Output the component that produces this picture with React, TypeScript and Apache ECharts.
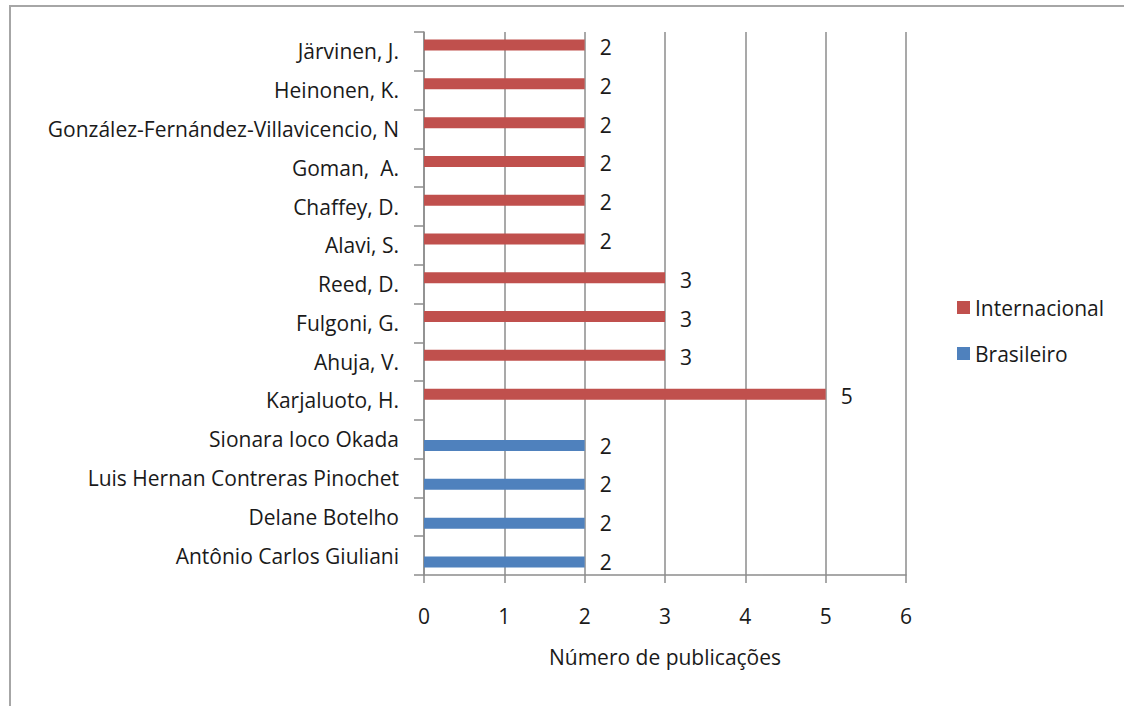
import React, { useEffect, useRef } from "react";
import * as echarts from "echarts";

const categories = [
  "Antônio Carlos Giuliani",
  "Delane Botelho",
  "Luis Hernan Contreras Pinochet",
  "Sionara Ioco Okada",
  "Karjaluoto, H.",
  "Ahuja, V.",
  "Fulgoni, G.",
  "Reed, D.",
  "Alavi, S.",
  "Chaffey, D.",
  "Goman,  A.",
  "González-Fernández-Villavicencio, N",
  "Heinonen, K.",
  "Järvinen, J.",
];

const internacional = [null, null, null, null, 5, 3, 3, 3, 2, 2, 2, 2, 2, 2];
const brasileiro = [2, 2, 2, 2, null, null, null, null, null, null, null, null, null, null];

const xTicks = [0, 1, 2, 3, 4, 5, 6];

const FONT = "Open Sans";
const FS = 21;
const TEXT = "#1a1a1a";
const GRID = "#8c8c8c";

export default function App() {
  const ref = useRef<HTMLDivElement>(null);
  useEffect(() => {
    if (!ref.current) return;
    const chart = echarts.init(ref.current, null, { renderer: "svg" });
    chart.setOption({
      animation: false,
      backgroundColor: "#ffffff",
      textStyle: { fontFamily: FONT, color: TEXT },
      graphic: [
        {
          type: "polyline",
          shape: { points: [[10, 706], [10, 6], [1124, 6]] },
          style: { stroke: "#a6a6a6", lineWidth: 2, fill: "none" },
          silent: true,
        },
      ],
      legend: {
        orient: "vertical",
        left: 952,
        top: 292,
        itemWidth: 13,
        itemHeight: 13,
        itemGap: 25,
        icon: "rect",
        textStyle: { fontFamily: FONT, fontSize: FS, color: TEXT },
        data: ["Internacional", "Brasileiro"],
      },
      grid: { left: 424, right: 218, top: 32, bottom: 131, containLabel: false },
      xAxis: {
        type: "value",
        min: xTicks[0],
        max: xTicks[xTicks.length - 1],
        interval: 1,
        name: "Número de publicações",
        nameLocation: "middle",
        nameGap: 71,
        nameTextStyle: { fontFamily: FONT, fontSize: FS, color: TEXT },
        axisLine: { show: true, lineStyle: { color: GRID, width: 1.5 } },
        axisTick: { show: true, length: 8, lineStyle: { color: GRID, width: 1.5 } },
        axisLabel: { margin: 30, fontFamily: FONT, fontSize: FS, color: TEXT },
        splitLine: { show: true, lineStyle: { color: GRID, width: 1.5 } },
      },
      yAxis: {
        type: "category",
        data: categories,
        axisLine: { show: true, lineStyle: { color: GRID, width: 1.5 } },
        axisTick: { show: true, length: 10, inside: false, lineStyle: { color: GRID, width: 1.5 } },
        axisLabel: { margin: 25, fontFamily: FONT, fontSize: FS, color: TEXT, interval: 0 },
        splitLine: { show: false },
      },
      series: [
        {
          name: "Internacional",
          type: "bar",
          data: internacional,
          barWidth: 11,
          barGap: "15%",
          itemStyle: { color: "#C0504D" },
          label: {
            show: true,
            position: "right",
            distance: 15,
            offset: [0, 2],
            fontFamily: FONT,
            fontSize: FS,
            color: TEXT,
          },
        },
        {
          name: "Brasileiro",
          type: "bar",
          data: brasileiro,
          barWidth: 11,
          barGap: "15%",
          itemStyle: { color: "#4F81BD" },
          label: {
            show: true,
            position: "right",
            distance: 15,
            offset: [0, 0],
            fontFamily: FONT,
            fontSize: FS,
            color: TEXT,
          },
        },
      ],
    });
    return () => chart.dispose();
  }, []);
  return (
    <div
      ref={ref}
      style={{ position: "fixed", left: 0, top: 0, width: 1124, height: 706 }}
    />
  );
}
